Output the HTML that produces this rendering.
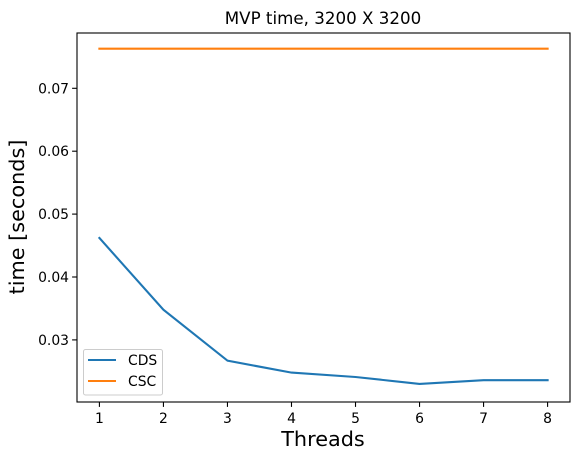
<!DOCTYPE html>
<html><head><meta charset="utf-8"><style>
body{margin:0;background:#fff}
svg text{font-family:"DejaVu Sans","Liberation Sans",sans-serif}
</style></head><body>
<svg id="chart" width="585" height="461" viewBox="0 0 585 461" xmlns="http://www.w3.org/2000/svg" style="position:absolute;left:0;top:0">
<rect width="585" height="461" fill="#fff"/>
<g id="plot"></g>
</svg>
<script>
const threads = [1,2,3,4,5,6,7,8];
const cdsValues = [0.0462,0.0348,0.0267,0.0248,0.0241,0.0230,0.0236,0.0236];
const cscValues = [0.0763,0.0763,0.0763,0.0763,0.0763,0.0763,0.0763,0.0763];
const xTicks = [1,2,3,4,5,6,7,8];
const yTicks = [0.03,0.04,0.05,0.06,0.07];
const yTickLabels = ["0.03","0.04","0.05","0.06","0.07"];

const L=77,R=570,T=33,B=402;
const xMin=0.65,xMax=8.35;
const y0v=0.07,y0p=88.3,pxPer=6290;
const xs=v=>L+(v-xMin)/(xMax-xMin)*(R-L);
const ys=v=>y0p-(v-y0v)*pxPer;
const NS="http://www.w3.org/2000/svg";
const g=document.getElementById('plot');
function mk(t,a,p){const e=document.createElementNS(NS,t);for(const k in a)e.setAttribute(k,a[k]);(p||g).appendChild(e);return e;}

function line(vals,color,name){
  const d=vals.map((v,i)=>(i?'L':'M')+xs(threads[i]).toFixed(1)+','+ys(v).toFixed(1)).join(' ');
  const p=mk('path',{d:d,fill:'none',stroke:color,'stroke-width':2.1,'stroke-linecap':'square'});
  
  
}
line(cdsValues,'#1f77b4','cds-line');
line(cscValues,'#ff7f0e','csc-line');

const frame=mk('rect',{x:L,y:T,width:R-L,height:B-T,fill:'none',stroke:'#000','stroke-width':1.1});



xTicks.forEach(v=>{
  const x=xs(v);
  mk('line',{x1:x,y1:B,x2:x,y2:B+4.9,stroke:'#000','stroke-width':1.1});
  const t=mk('text',{x:x,y:B+21,'text-anchor':'middle','font-size':13.9});
  t.textContent=v;
  
  
});
yTicks.forEach((v,i)=>{
  const y=ys(v);
  mk('line',{x1:L-4.9,y1:y,x2:L,y2:y,stroke:'#000','stroke-width':1.1});
  const t=mk('text',{x:L-8,y:y+5,'text-anchor':'end','font-size':13.9});
  t.textContent=yTickLabels[i];
  
  
});
</script>
<svg style="position:absolute;left:0;top:0" width="585" height="461" xmlns="http://www.w3.org/2000/svg">
<text x="323" y="24" text-anchor="middle" font-size="16.7" font-family="DejaVu Sans, Liberation Sans, sans-serif">MVP time, 3200 X 3200</text>
<text x="323" y="446" text-anchor="middle" font-size="20.8" font-family="DejaVu Sans, Liberation Sans, sans-serif">Threads</text>
<text transform="translate(24,217) rotate(-90)" text-anchor="middle" font-size="20.8" font-family="DejaVu Sans, Liberation Sans, sans-serif">time [seconds]</text>
<g>
<rect x="83.5" y="349.5" width="79" height="45.5" rx="2" fill="#fff" fill-opacity="0.8" stroke="#ccc" stroke-width="1"/>
<line x1="88" y1="360" x2="116" y2="360" stroke="#1f77b4" stroke-width="2.1"/>
<text x="128" y="365" font-size="13.9" font-family="DejaVu Sans, Liberation Sans, sans-serif">CDS</text>
<line x1="88" y1="381" x2="116" y2="381" stroke="#ff7f0e" stroke-width="2.1"/>
<text x="128" y="386" font-size="13.9" font-family="DejaVu Sans, Liberation Sans, sans-serif">CSC</text>
</g>
</svg>
</body></html>
